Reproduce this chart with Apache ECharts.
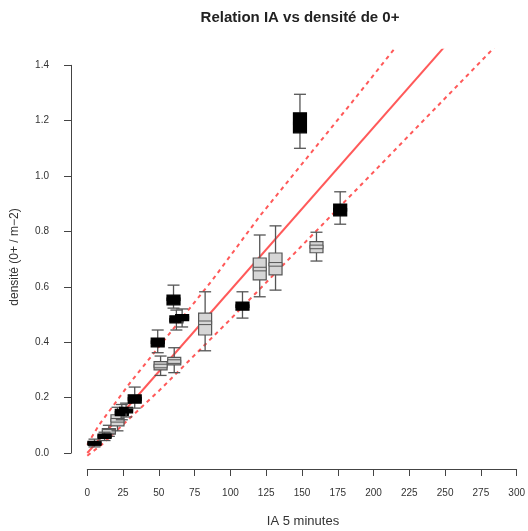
<!DOCTYPE html>
<html>
<head>
<meta charset="utf-8">
<script src="https://cdn.jsdelivr.net/npm/echarts@6/dist/echarts.min.js"></script>
<style>html,body{margin:0;padding:0;background:#fff;}#c{width:528px;height:531px;}</style>
</head>
<body>
<div id="c"></div>
<script>
// ---- data ----
const titleText = 'Relation IA vs densité de 0+';
const xName = 'IA 5 minutes';
const yName = 'densité (0+ / m−2)';
const xTicks = [0, 25, 50, 75, 100, 125, 150, 175, 200, 225, 250, 275, 300];
const yTicks = [0.0, 0.2, 0.4, 0.6, 0.8, 1.0, 1.2, 1.4];

// [x, min, Q1, median, Q3, max]
const blackBoxes = [
  [5, 0.022, 0.028, 0.035, 0.042, 0.050],
  [12, 0.045, 0.053, 0.060, 0.068, 0.075],
  [24, 0.120, 0.135, 0.145, 0.158, 0.175],
  [27, 0.130, 0.145, 0.155, 0.165, 0.180],
  [33, 0.162, 0.180, 0.195, 0.210, 0.238],
  [49, 0.362, 0.383, 0.400, 0.415, 0.444],
  [60, 0.523, 0.535, 0.555, 0.570, 0.606],
  [62, 0.444, 0.470, 0.480, 0.495, 0.516],
  [66, 0.455, 0.478, 0.488, 0.500, 0.520],
  [108, 0.487, 0.516, 0.530, 0.545, 0.582],
  [148, 1.100, 1.156, 1.190, 1.228, 1.295],
  [176, 0.826, 0.856, 0.878, 0.899, 0.943]
];
const grayBoxes = [
  [15, 0.060, 0.068, 0.078, 0.088, 0.100],
  [21, 0.080, 0.098, 0.118, 0.138, 0.165],
  [51, 0.280, 0.300, 0.314, 0.330, 0.350],
  [60.5, 0.290, 0.318, 0.330, 0.345, 0.380],
  [82, 0.369, 0.426, 0.470, 0.505, 0.582],
  [120, 0.564, 0.625, 0.664, 0.704, 0.787],
  [131, 0.588, 0.643, 0.681, 0.722, 0.820],
  [159.5, 0.693, 0.723, 0.744, 0.763, 0.797]
];
const fitLine = [[0, 0], [300, 1.77]];
const upperBand = [[0, 0.03], [8, 0.10], [30, 0.255], [87, 0.624], [120, 0.855], [184, 1.265], [220, 1.50]];
const lowerBand = [[0, -0.01], [10, 0.03], [50, 0.225], [100, 0.485], [204, 1.04], [290, 1.50]];

// ---- chart ----
const chart = echarts.init(document.getElementById('c'), null, {renderer: 'canvas'});
const FONT = 'Liberation Sans, Arial, Helvetica, sans-serif';

function boxRenderer(fill, stroke, medFill, medStroke) {
  return function (params, api) {
    const x = api.value(0);
    const lo = api.coord([x, api.value(1)]);
    const q1 = api.coord([x, api.value(2)]);
    const md = api.coord([x, api.value(3)]);
    const q3 = api.coord([x, api.value(4)]);
    const hi = api.coord([x, api.value(5)]);
    const cx = lo[0];
    const bw = 6.5, cw = 6, mh = 3.6;
    const ws = {stroke: '#555', lineWidth: 1.3};
    return {
      type: 'group',
      children: [
        {type: 'line', shape: {x1: cx, y1: hi[1], x2: cx, y2: q3[1]}, style: ws},
        {type: 'line', shape: {x1: cx, y1: q1[1], x2: cx, y2: lo[1]}, style: ws},
        {type: 'line', shape: {x1: cx - cw, y1: hi[1], x2: cx + cw, y2: hi[1]}, style: ws},
        {type: 'line', shape: {x1: cx - cw, y1: lo[1], x2: cx + cw, y2: lo[1]}, style: ws},
        {type: 'rect', shape: {x: cx - bw, y: q3[1], width: 2 * bw, height: q1[1] - q3[1]},
          style: {fill: fill, stroke: stroke, lineWidth: 1.2}},
        {type: 'rect', shape: {x: cx - bw, y: md[1] - mh / 2, width: 2 * bw, height: mh},
          style: {fill: medFill, stroke: medStroke, lineWidth: 1}}
      ]
    };
  };
}

const redLine = 'rgba(255,60,60,0.85)';

chart.setOption({
  animation: false,
  backgroundColor: '#fff',
  grid: [
    {left: 70.06, top: 49.7, width: 448.3, height: 418.8},
    {left: 87.3, top: 440, width: 431.1, height: 29},
    {left: 71, top: 65.3, width: 300, height: 387.8}
  ],
  xAxis: [
    {gridIndex: 0, type: 'value', min: -12, max: 300, show: false},
    {gridIndex: 1, type: 'value', min: xTicks[0], max: xTicks[xTicks.length - 1], interval: 25,
      position: 'bottom',
      axisLine: {show: true, lineStyle: {color: '#444', width: 1}},
      axisTick: {show: true, length: 7, lineStyle: {color: '#444'}},
      axisLabel: {show: true, margin: 19, color: '#333', fontSize: 10, fontFamily: FONT},
      splitLine: {show: false}},
    {gridIndex: 2, type: 'value', min: 0, max: 1, show: false}
  ],
  yAxis: [
    {gridIndex: 0, type: 'value', min: -0.056, max: 1.456, show: false},
    {gridIndex: 1, type: 'value', min: 0, max: 1, show: false},
    {gridIndex: 2, type: 'value', min: yTicks[0], max: yTicks[yTicks.length - 1], interval: 0.2,
      position: 'left',
      axisLine: {show: true, lineStyle: {color: '#444', width: 1}},
      axisTick: {show: true, length: 7, lineStyle: {color: '#444'}},
      axisLabel: {show: true, margin: 22, color: '#333', fontSize: 10, fontFamily: FONT,
        formatter: v => v.toFixed(1)},
      splitLine: {show: false}}
  ],
  graphic: [
    {type: 'text', x: 300, y: 18, style: {text: titleText, fontSize: 15, fontWeight: 'bold',
      fontFamily: FONT, fill: '#222', textAlign: 'center', textVerticalAlign: 'middle'}},
    {type: 'text', x: 303, y: 521, style: {text: xName, fontSize: 13, fontFamily: FONT,
      fill: '#333', textAlign: 'center', textVerticalAlign: 'middle'}},
    {type: 'text', x: 15, y: 257, rotation: Math.PI / 2, style: {text: yName, fontSize: 12,
      fontFamily: FONT, fill: '#333', textAlign: 'center', textVerticalAlign: 'middle'}}
  ],
  series: [
    {type: 'line', xAxisIndex: 0, yAxisIndex: 0, data: fitLine, symbol: 'none', clip: true, z: 1,
      lineStyle: {color: redLine, width: 2, type: 'solid'}},
    {type: 'line', xAxisIndex: 0, yAxisIndex: 0, data: upperBand, symbol: 'none', clip: true, z: 1,
      lineStyle: {color: redLine, width: 2, type: [4, 4]}},
    {type: 'line', xAxisIndex: 0, yAxisIndex: 0, data: lowerBand, symbol: 'none', clip: true, z: 1,
      lineStyle: {color: redLine, width: 2, type: [4, 4]}},
    {type: 'custom', name: 'gray', coordinateSystem: 'cartesian2d', xAxisIndex: 0, yAxisIndex: 0,
      renderItem: boxRenderer('#d6d6d6', '#555', '#d6d6d6', '#555'), data: grayBoxes, z: 3,
      encode: {x: 0, y: [1, 2, 3, 4, 5]}},
    {type: 'custom', name: 'black', coordinateSystem: 'cartesian2d', xAxisIndex: 0, yAxisIndex: 0,
      renderItem: boxRenderer('#000', '#000', '#000', '#000'), data: blackBoxes, z: 4,
      encode: {x: 0, y: [1, 2, 3, 4, 5]}}
  ]
});
</script>
</body>
</html>
